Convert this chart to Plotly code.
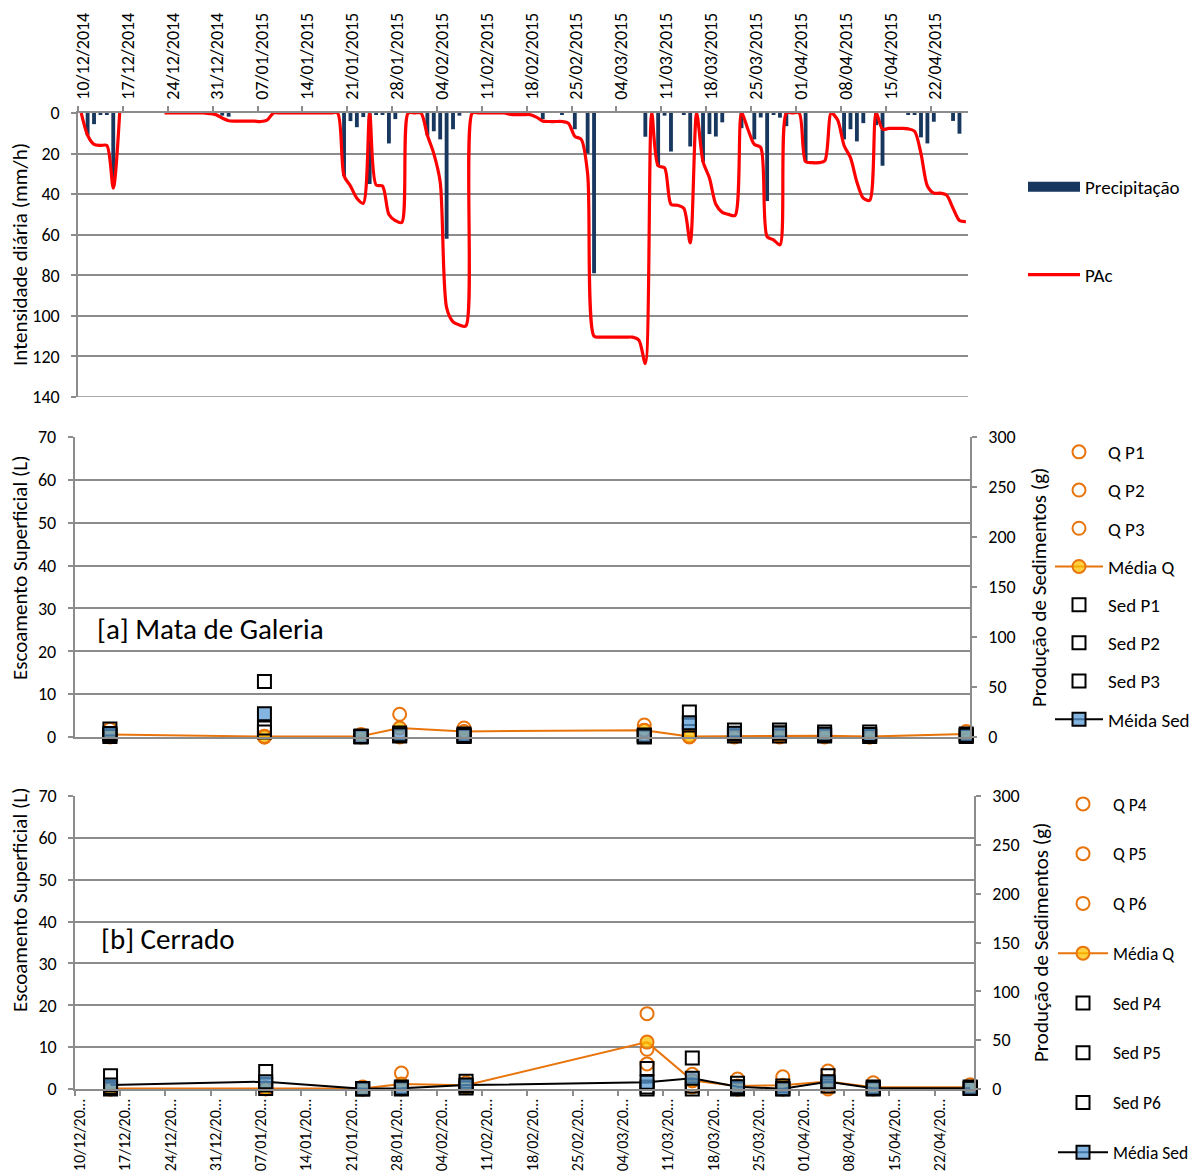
import pandas as pd
import plotly.graph_objects as go

FONT = "Carlito, Calibri, Lato, sans-serif"
GRID = "#8c8c8c"
ORANGE = "#E8740C"
NAVY = "#17375E"
DAY_MS = 86400000

W, H = 1197, 1176


def px(x):
    return x / W


def py(y):
    return 1 - y / H


# daily series, 10/12/2014 .. 27/04/2015
days = pd.date_range("2014-12-10", periods=139, freq="D")

precip = [
    0, 11, 5.5, 1, 1, 36, 0, 0, 0, 0,
    0, 0, 0, 0, 0, 0, 0, 0, 0, 0,
    0, 0, 1.3, 1.8, 0, 0, 0, 0, 0, 0,
    0, 0, 0, 0, 0, 0, 0, 0, 0, 0,
    0, 31, 4, 7, 2, 35, 0.5, 0.5, 15, 3,
    0, 0, 0, 0, 11, 9, 13, 62, 8, 1.3,
    0, 0, 0, 0, 0, 0, 0, 0, 0, 0,
    0, 0, 3, 0, 0, 0.8, 0, 8, 0, 20,
    79, 0, 0, 0, 0, 0, 0, 0, 11.7, 0,
    26, 1.3, 19, 0, 1, 16.5, 0, 24, 10.4, 11.6,
    4.6, 0, 0, 7.5, 0, 13, 2.2, 43.4, 1, 2.3,
    6.5, 0, 0, 24, 0, 0, 0, 0, 0, 13,
    8, 14, 5, 0, 6, 26, 0, 0, 0, 0.8,
    0.8, 12, 15, 4.3, 0, 0, 3.9, 10.2, 0,
]

N = None
pac = [
    0, 11, 15.5, 16, 16, 37, 0, N, N, N,
    N, N, N, 0, 0, 0, 0, 0, 0, 0,
    0.3, 0.8, 2.5, 3.8, 4, 4, 4, 4, 4.2, 3.5,
    0, 0, 0, 0, 0, 0, 0, 0, 0, 0,
    0, 31, 36, 42, 44.5, 0, 35.5, 36, 50, 53,
    54, 0, 0, 0, 11, 20, 34, 96, 103, 104.5,
    105, 0, 0, 0, 0, 0, 0, 0.7, 0.8, 0.8,
    0.8, 2, 4, 4.2, 4.2, 4.2, 5, 11.5, 13, 30,
    110, 110.5, 110.5, 110.5, 110.5, 110.5, 110.5, 112, 123.5, 0,
    26, 27, 45, 45.5, 47, 64, 0, 24, 32, 45,
    49, 50, 50.5, 0, 8, 15.5, 17, 61, 62.5, 65,
    0, 0, 0, 24, 24.5, 24.5, 23.5, 0, 3.5, 16,
    22, 34, 42, 43, 0, 8, 7.6, 7.6, 7.6, 7.8,
    9, 20, 36, 39.5, 39.5, 40.5, 47, 53, 53.5,
]

# sampling events
events = ["2014-12-15", "2015-01-08", "2015-01-23", "2015-01-29", "2015-02-08",
          "2015-03-08", "2015-03-15", "2015-03-22", "2015-03-29", "2015-04-05",
          "2015-04-12", "2015-04-27"]

# [a] Mata de Galeria: runoff (L) and sediment (g)
q_p1 = [1.8, 0.2, 0.6, 5.3, 2.1, 2.8, 0.3, 0.5, 0.8, 0.6, 0.2, 1.3]
q_p2 = [0.3, 0.0, 0.1, 1.0, 1.2, 1.5, 0.1, 0.1, 0.1, 0.2, 0.0, 0.5]
q_p3 = [0.0, 0.0, 0.0, 0.0, 0.6, 0.5, 0.0, 0.0, 0.0, 0.0, 0.0, 0.3]
q_mean_a = [0.6, 0.1, 0.2, 2.1, 1.3, 1.6, 0.1, 0.2, 0.3, 0.3, 0.1, 0.7]
sed_p1 = [8, 55.5, 1, 4, 3, 2, 25, 7, 7, 5, 5, 3]
sed_p2 = [2, 9, 0.5, 2, 1, 1, 12, 3, 4, 2, 2, 1.5]
sed_p3 = [0.5, 5, 0, 1, 0.5, 0, 5.5, 1, 1, 1, 0.5, 0.5]
sed_mean_a = [3.5, 23.2, 0.5, 2.3, 1.5, 1.0, 14.2, 3.7, 4.0, 2.7, 2.5, 1.7]

# [b] Cerrado: runoff (L) and sediment (g)
q_p4 = [0.1, 0.3, 0.5, 3.8, 1.5, 18, 3.5, 2.4, 2.9, 4.3, 1.5, 1.0]
q_p5 = [0, 0.1, 0, 0.3, 0.8, 9.5, 2, 0, 0, 0.5, 0.3, 0.3]
q_p6 = [0, 0, 0, 0, 0.5, 6, 0.5, 0, 0, 0, 0, 0.2]
q_mean_b = [0.1, 0.1, 0.1, 1.2, 0.9, 11.2, 2.0, 0.7, 0.9, 1.8, 0.4, 0.4]
sed_p4 = [13.5, 18, 0.5, 2, 8, 21, 31.7, 6, 3, 13.5, 2, 2]
sed_p5 = [1.5, 4, 0.3, 0.5, 3, 2, 3, 1, 0.5, 6, 1, 1]
sed_p6 = [0, 0.5, 0, 0, 1, 0, 0, 0, 0, 3, 0, 0.5]
sed_mean_b = [4.2, 7.5, 0.2, 0.7, 4.0, 7.0, 11.0, 2.3, 0.3, 7.5, 0.8, 0.8]

week_ticks = pd.date_range("2014-12-10", "2015-04-22", freq="7D")
top_ticktext = [d.strftime("%d/%m/%Y") for d in week_ticks]
bottom_ticktext = [d.strftime("%d/%m/%Y")[:8] + "\u2026" for d in week_ticks]

fig = go.Figure()

# ---- precipitation panel ----
fig.add_trace(go.Bar(
    x=days, y=precip, name="Precipitação", xperiod=DAY_MS, xperiodalignment="middle",
    marker=dict(color=NAVY, line=dict(width=0)), xaxis="x", yaxis="y",
    showlegend=False,
))
# wide swatch for the precipitation legend entry
fig.add_trace(go.Scatter(
    x=[None], y=[None], name="Precipitação", mode="lines",
    line=dict(color=NAVY, width=10), xaxis="x", yaxis="y",
    legend="legend", legendgroup="prec",
))
fig.add_trace(go.Scatter(
    x=days, y=pac, name="PAc", mode="lines", xperiod=DAY_MS, xperiodalignment="middle",
    line=dict(color="#FF0000", width=3.2, shape="spline", smoothing=0.8),
    xaxis="x", yaxis="y", legend="legend", legendgroup="pac",
))


def runoff_sed_traces(xa, ya_left, ya_right, leg, qs, qnames, qmean, seds, snames,
                      mean_sed_name, smean, sed_line, msize):
    for vals, nm in zip(qs, qnames):
        fig.add_trace(go.Scatter(
            x=events, y=vals, name=nm, mode="markers", xperiod=DAY_MS,
            xperiodalignment="middle", cliponaxis=False,
            marker=dict(symbol="circle-open", size=msize, color=ORANGE, line=dict(width=2)),
            xaxis=xa, yaxis=ya_left, legend=leg, legendgroup=leg + nm,
        ))
    fig.add_trace(go.Scatter(
        x=events, y=qmean, name="Média Q", mode="lines+markers", xperiod=DAY_MS,
        xperiodalignment="middle", cliponaxis=False,
        line=dict(color=ORANGE, width=2),
        marker=dict(symbol="circle", size=msize, color="rgba(255,192,0,0.75)",
                    line=dict(color=ORANGE, width=2)),
        xaxis=xa, yaxis=ya_left, legend=leg, legendgroup=leg + "mq",
    ))
    for vals, nm in zip(seds, snames):
        fig.add_trace(go.Scatter(
            x=events, y=vals, name=nm, mode="markers", xperiod=DAY_MS,
            xperiodalignment="middle", cliponaxis=False,
            marker=dict(symbol="square-open", size=msize, color="black", line=dict(width=2)),
            xaxis=xa, yaxis=ya_right, legend=leg, legendgroup=leg + nm,
        ))
    fig.add_trace(go.Scatter(
        x=events, y=smean, name=mean_sed_name,
        mode="lines+markers" if sed_line else "markers",
        xperiod=DAY_MS, xperiodalignment="middle", cliponaxis=False,
        line=dict(color="black", width=2),
        marker=dict(symbol="square", size=msize, color="rgba(91,155,213,0.75)",
                    line=dict(color="black", width=2)),
        xaxis=xa, yaxis=ya_right, legend=leg, legendgroup=leg + "ms",
        showlegend=sed_line,
    ))
    if not sed_line:
        # legend entry keeps the line swatch of the series style
        fig.add_trace(go.Scatter(
            x=[None], y=[None], name=mean_sed_name, mode="lines+markers",
            line=dict(color="black", width=2),
            marker=dict(symbol="square", size=msize, color="rgba(91,155,213,0.75)",
                        line=dict(color="black", width=2)),
            xaxis=xa, yaxis=ya_right, legend=leg, legendgroup=leg + "ms",
        ))


runoff_sed_traces("x2", "y2", "y3", "legend2",
                  [q_p1, q_p2, q_p3], ["Q P1", "Q P2", "Q P3"], q_mean_a,
                  [sed_p1, sed_p2, sed_p3], ["Sed P1", "Sed P2", "Sed P3"], "Méida Sed",
                  sed_mean_a, False, 13)
runoff_sed_traces("x3", "y4", "y5", "legend3",
                  [q_p4, q_p5, q_p6], ["Q P4", "Q P5", "Q P6"], q_mean_b,
                  [sed_p4, sed_p5, sed_p6], ["Sed P4", "Sed P5", "Sed P6"], "Média Sed",
                  sed_mean_b, True, 13)

TICK_SIZE = 18
tickfont = dict(family=FONT, size=TICK_SIZE, color="black")
axis_common = dict(showline=True, linecolor=GRID, linewidth=1.5, ticks="outside",
                   tickcolor=GRID, ticklen=5, tickwidth=1.5, zeroline=False,
                   tickfont=tickfont, automargin=False)

x_range_top = ["2014-12-10", "2015-04-27 20:00"]
x_range_low = ["2014-12-10", "2015-04-28 02:00"]

legend_common = dict(xanchor="left", yanchor="top", bgcolor="rgba(0,0,0,0)", borderwidth=0)

fig.update_layout(
    width=W, height=H,
    margin=dict(l=0, r=0, t=0, b=0, autoexpand=False),
    paper_bgcolor="white", plot_bgcolor="white",
    font=dict(family=FONT, color="black"),
    bargap=0.4,
    xaxis=dict(domain=[px(78), px(968)], range=x_range_top, type="date", side="top",
               anchor="y", tickvals=week_ticks, ticktext=top_ticktext, tickangle=-90,
               ticklabelstandoff=3, ticklabelshift=5,
               showgrid=False, **{**axis_common, "tickfont": dict(tickfont, size=18)}),
    yaxis=dict(domain=[py(397), py(113)], range=[140, 0], dtick=20, anchor="x",
               ticklabelstandoff=8,
               showgrid=True, gridcolor=GRID, gridwidth=1.5, **axis_common),
    xaxis2=dict(domain=[px(74.5), px(970)], range=x_range_low, type="date", anchor="y2",
                showticklabels=False, showgrid=False, showline=True, linecolor=GRID,
                linewidth=1.5, ticks="", zeroline=False, automargin=False),
    yaxis2=dict(domain=[py(737), py(437)], range=[0, 70], dtick=10, anchor="x2",
                ticklabelstandoff=8,
                showgrid=True, gridcolor=GRID, gridwidth=1.5, **axis_common),
    yaxis3=dict(range=[0, 300], dtick=50, overlaying="y2", side="right", anchor="x2",
                ticklabelstandoff=8, showgrid=False, **axis_common),
    xaxis3=dict(domain=[px(75), px(974)], range=x_range_low, type="date", anchor="y4",
                tickvals=week_ticks, ticktext=bottom_ticktext, tickangle=-90,
                ticklabelstandoff=-3, ticklabelshift=5,
                showgrid=False, **{**axis_common, "tickfont": dict(tickfont, size=16)}),
    yaxis4=dict(domain=[py(1089), py(796)], range=[0, 70], dtick=10, anchor="x3",
                ticklabelstandoff=8,
                showgrid=True, gridcolor=GRID, gridwidth=1.5, **axis_common),
    yaxis5=dict(range=[0, 300], dtick=50, overlaying="y4", side="right", anchor="x3",
                ticklabelstandoff=8, showgrid=False, **axis_common),
    legend=dict(x=px(1023), y=py(168), itemwidth=52, tracegroupgap=60,
                font=dict(family=FONT, size=19), **legend_common),
    legend2=dict(x=px(1050), y=py(433), itemwidth=48, tracegroupgap=10.5,
                 font=dict(family=FONT, size=19), **legend_common),
    legend3=dict(x=px(1053), y=py(786), itemwidth=50, tracegroupgap=24,
                 font=dict(family=FONT, size=17.5), **legend_common),
    showlegend=True,
)

# bottom gridline of the precipitation panel
fig.add_shape(type="line", xref="x domain", yref="y", x0=0, x1=1, y0=140, y1=140,
              line=dict(color=GRID, width=1.5))

annotations = [
    dict(text="Intensidade diária (mm/h)", x=px(20), y=py(255), textangle=-90, size=21),
    dict(text="Escoamento Superficial (L)", x=px(20), y=py(568), textangle=-90, size=21),
    dict(text="Produção de Sedimentos (g)", x=px(1039), y=py(588), textangle=-90, size=21),
    dict(text="Escoamento Superficial (L)", x=px(20), y=py(900), textangle=-90, size=21),
    dict(text="Produção de Sedimentos (g)", x=px(1041), y=py(943), textangle=-90, size=21),
    dict(text="[a] Mata de Galeria", x=px(95), y=py(629), textangle=0, size=29, xanchor="left"),
    dict(text="[b] Cerrado", x=px(99), y=py(939), textangle=0, size=29, xanchor="left"),
]
for a in annotations:
    fig.add_annotation(
        text=a["text"], x=a["x"], y=a["y"], xref="paper", yref="paper",
        xanchor=a.get("xanchor", "center"), yanchor="middle", textangle=a["textangle"],
        showarrow=False, font=dict(family=FONT, size=a["size"], color="black"),
    )

fig.write_html("out.html")
